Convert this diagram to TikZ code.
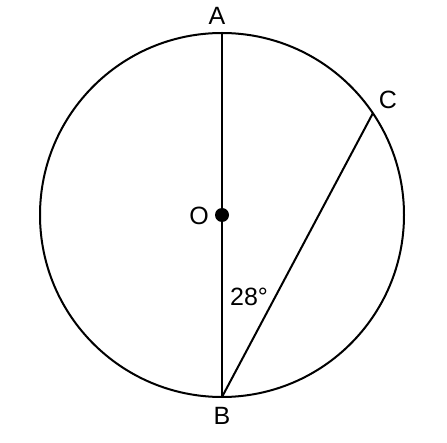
\documentclass[tikz,border=0pt]{standalone}
\usepackage{fontspec}
\setmainfont{Liberation Sans}
\begin{document}
\begin{tikzpicture}[x=1pt,y=-1pt,
  lbl/.style={inner sep=0pt,font=\fontsize{25}{27}\selectfont},
  ln/.style={line width=2pt}]
\useasboundingbox (0,0) rectangle (447,443);
\coordinate (O) at (222,215);
\coordinate (A) at (222,33);
\coordinate (B) at (222,397);
\coordinate (C) at (372.9,113.2);
\draw[ln] (O) circle[radius=182];
\draw[ln] (A) -- (B);
\draw[ln] (B) -- (C);
\fill (O) circle[radius=7];
\node[lbl] (la) at (217,16) {A};
\node[lbl] (lb) at (222,416) {B};
\node[lbl] (lc) at (388,100) {C};
\node[lbl] (lo) at (199,216) {O};
\node[lbl] (l28) at (249,297) {28°};
\end{tikzpicture}
\end{document}
